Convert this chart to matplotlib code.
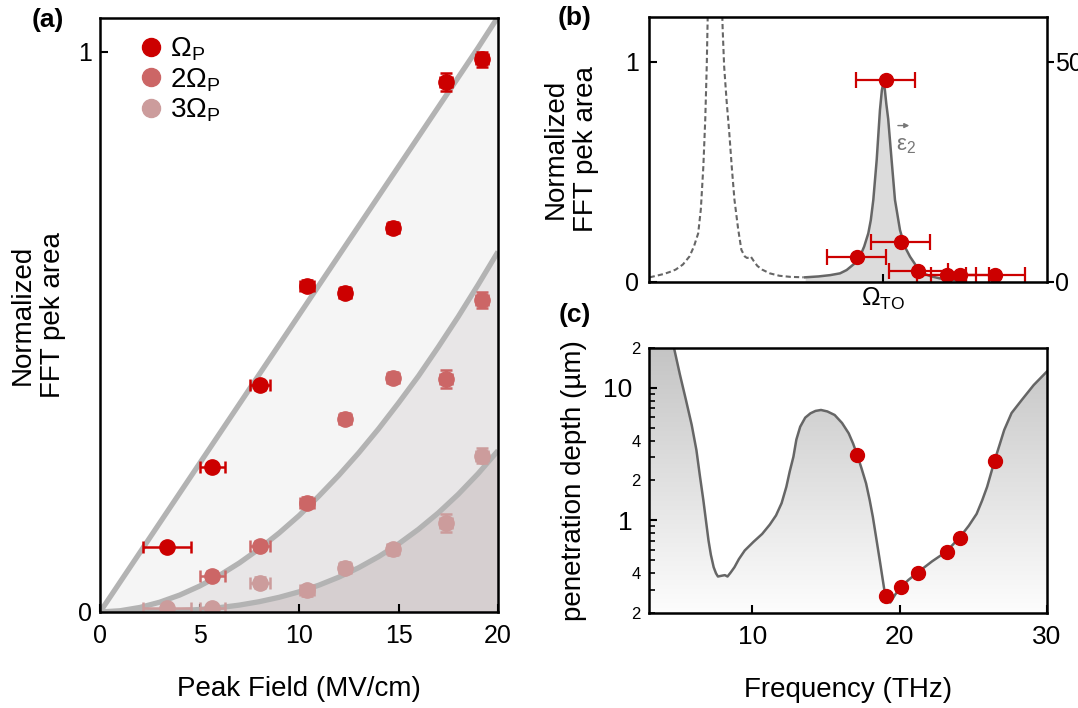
import matplotlib
matplotlib.use("Agg")
import matplotlib.pyplot as plt
import numpy as np
from matplotlib.patches import Polygon
from matplotlib.colors import LinearSegmentedColormap
from matplotlib.ticker import FixedLocator, FixedFormatter

plt.rcParams['font.family'] = ['Liberation Sans', 'DejaVu Sans']
plt.rcParams['mathtext.fontset'] = 'custom'
plt.rcParams['mathtext.rm'] = 'Liberation Sans'
plt.rcParams['mathtext.it'] = 'Liberation Sans:italic'
plt.rcParams['mathtext.bf'] = 'Liberation Sans:bold'

# ---- panel (a): peak area vs field ----
field = [3.37, 5.65, 8.04, 10.4, 12.3, 14.7, 17.4, 19.2]
field_err = [1.2, 0.65, 0.5, 0.35, 0.3, 0.3, 0.3, 0.3]
area_1p = [0.116, 0.259, 0.405, 0.582, 0.570, 0.686, 0.946, 0.986]
err_1p = [0.006, 0.006, 0.008, 0.01, 0.01, 0.01, 0.016, 0.014]
area_2p = [0.065, 0.118, 0.195, 0.345, 0.418, 0.416, 0.557]
err_2p = [0.008, 0.008, 0.01, 0.01, 0.01, 0.016, 0.014]
area_3p = [0.007, 0.007, 0.052, 0.039, 0.079, 0.112, 0.158, 0.279]
err_3p = [0.006, 0.008, 0.01, 0.01, 0.01, 0.01, 0.016, 0.014]

fit_x = list(range(21))
fit_1p = [0, 0.053, 0.106, 0.159, 0.212, 0.265, 0.318, 0.371, 0.424, 0.477, 0.530,
          0.583, 0.636, 0.689, 0.742, 0.795, 0.848, 0.901, 0.954, 1.007, 1.062]
fit_2p = [0, 0.0022, 0.0081, 0.0175, 0.0302, 0.0462, 0.0653, 0.0875, 0.1128, 0.141, 0.172,
          0.207, 0.244, 0.284, 0.327, 0.373, 0.421, 0.473, 0.527, 0.584, 0.643]
fit_3p = [0, 0.00004, 0.0003, 0.001, 0.0023, 0.0045, 0.0078, 0.0123, 0.0184, 0.0262, 0.036,
          0.0479, 0.0622, 0.0791, 0.0988, 0.1215, 0.1475, 0.1769, 0.21, 0.247, 0.288]

# ---- panel (b): peak area vs frequency ----
freq_pts = [17.1, 19.06, 20.07, 21.27, 23.2, 24.1, 26.5]
freq_err = [2.0, 2.0, 2.0, 2.0, 2.0, 2.0, 2.0]
area_freq = [0.114, 0.918, 0.182, 0.05, 0.032, 0.032, 0.032]

dash_x = [3.05, 3.5, 4.0, 4.4, 4.81, 5.3, 5.75, 6.05, 6.34, 6.52, 6.69, 6.82, 6.92, 7.1,
          7.45, 7.8, 8.0, 8.1, 8.27, 8.45, 8.62, 8.8, 9.05, 9.27, 9.5, 9.65, 9.8, 9.9,
          10.1, 10.35, 10.68, 11.2, 11.85, 12.6, 13.5]
dash_y = [0.02, 0.027, 0.035, 0.044, 0.055, 0.078, 0.115, 0.16, 0.22, 0.33, 0.524, 0.74,
          0.98, 1.6, 3.0, 1.6, 1.15, 0.98, 0.82, 0.676, 0.52, 0.373, 0.24, 0.145, 0.115,
          0.108, 0.11, 0.115, 0.095, 0.072, 0.055, 0.038, 0.027, 0.022, 0.02]
eps_x = [13.6, 14.5, 15.3, 15.96, 16.41, 16.9, 17.31, 17.6, 17.88, 18.05, 18.22, 18.45,
         18.67, 18.8, 18.9, 19.0, 19.1, 19.23, 19.46, 19.69, 20.03, 20.35, 20.71, 21.1,
         21.61, 22.1, 22.74, 23.5, 24.5]
eps_y = [0.02, 0.024, 0.03, 0.038, 0.053, 0.08, 0.114, 0.16, 0.22, 0.28, 0.372, 0.554,
         0.78, 0.87, 0.905, 0.875, 0.81, 0.74, 0.554, 0.372, 0.235, 0.16, 0.114, 0.075,
         0.038, 0.025, 0.015, 0.008, 0.004]

# ---- panel (c): penetration depth ----
depth_pts = [3.11, 0.27, 0.312, 0.40, 0.575, 0.74, 2.81]
pen_x = [3.0, 4.0, 4.7, 5.1, 5.51, 5.9, 6.22, 6.45, 6.69, 6.87, 7.04, 7.2, 7.39, 7.55,
         7.68, 7.83, 7.98, 8.15, 8.33, 8.55, 8.8, 9.1, 9.5, 10.1, 10.68, 11.2, 11.62, 12.0,
         12.32, 12.55, 12.8, 13.0, 13.26, 13.6, 13.96, 14.3, 14.67, 15.1, 15.6, 16.1, 16.55,
         16.85, 17.13, 17.43, 17.73, 17.97, 18.19, 18.42, 18.66, 18.85, 19.01, 19.2, 19.37,
         19.7, 20.07, 20.6, 21.25, 22.2, 23.12, 23.6, 24.1, 24.7, 25.23, 25.6, 25.94, 26.2,
         26.46, 26.8, 27.1, 27.6, 28.29, 29.1, 30.0]
pen_y = [80, 35, 20, 12.6, 8.1, 5.25, 3.39, 2.19, 1.42, 0.99, 0.705, 0.55, 0.443, 0.398,
         0.377, 0.38, 0.383, 0.386, 0.377, 0.405, 0.443, 0.51, 0.593, 0.69, 0.79, 0.93, 1.09,
         1.35, 1.79, 2.34, 3.02, 4.07, 5.09, 5.96, 6.43, 6.7, 6.81, 6.64, 6.24, 5.43, 4.54,
         3.8, 3.11, 2.45, 1.9, 1.43, 1.06, 0.733, 0.498, 0.363, 0.279, 0.251, 0.24,
         0.275, 0.312, 0.355, 0.406, 0.49, 0.575, 0.653, 0.748, 0.912, 1.12, 1.41, 1.79, 2.26,
         2.85, 3.76, 4.81, 6.46, 8.1, 10.5, 13.3]

red1 = '#cc0000'
red2 = '#cc6666'
red3 = '#cc9c9c'
tfs = 18   # tick labels
lfs = 20   # axis labels

fig = plt.figure(figsize=(10.78, 7.08), dpi=100)

# panel (a)
ax = fig.add_axes([0.0928, 0.1356, 0.3692, 0.839])
ax.fill_between(fit_x, fit_1p, 0, color='#f5f5f5', lw=0)
ax.fill_between(fit_x, fit_2p, 0, color='#e8e6e7', lw=0)
ax.fill_between(fit_x, fit_3p, 0, color='#d6cfd0', lw=0)
for fy in (fit_1p, fit_2p, fit_3p):
    ax.plot(fit_x, fy, color='#b3b3b3', lw=3.8, solid_capstyle='butt')

series = [(field, area_3p, err_3p, field_err, red3, r'$3\Omega_{\mathrm{P}}$'),
          (field[1:], area_2p, err_2p, field_err[1:], red2, r'$2\Omega_{\mathrm{P}}$'),
          (field, area_1p, err_1p, field_err, red1, r'$\Omega_{\mathrm{P}}$')]
handles = {}
for x, y, ye, xe, c, lab in series:
    ax.errorbar(x, y, yerr=ye, xerr=xe, fmt='none', ecolor=c, elinewidth=1.8,
                capsize=4.5, capthick=1.8)
    handles[lab] = ax.plot(x, y, 'o', color=c, ms=11, label=lab)[0]

order = [r'$\Omega_{\mathrm{P}}$', r'$2\Omega_{\mathrm{P}}$', r'$3\Omega_{\mathrm{P}}$']
ax.legend([handles[k] for k in order], order, loc='upper left', bbox_to_anchor=(0.1, 0.97),
          frameon=False, fontsize=20, handlelength=0.8, handletextpad=0.3,
          labelspacing=0.1, markerscale=1.18, borderpad=0, borderaxespad=0)

ax.set_xlim(0, 20)
ax.set_ylim(0, 1.06)
ax.set_xticks([0, 5, 10, 15, 20])
ax.set_yticks([0, 1])
ax.set_yticklabels(['0', '1'])
ax.tick_params(direction='in', labelsize=tfs, width=1.5, length=6)
ax.tick_params(axis='x', pad=9)
ax.tick_params(axis='y', pad=6)
ax.set_xlabel('Peak Field (MV/cm)', fontsize=lfs, labelpad=20)
ax.set_ylabel('Normalized\nFFT pek area', fontsize=lfs)
ax.yaxis.set_label_coords(-0.085, 0.5)
for s in ax.spines.values():
    s.set_linewidth(1.8)
fig.text(0.0445, 0.972, '(a)', fontsize=19, fontweight='bold', ha='center', va='center')

# panel (b)
axb = fig.add_axes([0.602, 0.6021, 0.3692, 0.3743])
axb.fill_between(eps_x, eps_y, 0, color='#dcdcdc', lw=0)
axb.plot(eps_x, eps_y, color='#666666', lw=1.8)
axb.plot(dash_x, dash_y, color='#666666', lw=1.5, ls=(0, (2.5, 1.5)))
axb.errorbar(freq_pts, area_freq, xerr=freq_err, fmt='o', color=red1, ms=10,
             elinewidth=1.6, capsize=6, capthick=1.6)
axb.annotate('', xy=(20.85, 0.71), xytext=(19.7, 0.71),
             arrowprops=dict(arrowstyle='-|>', color='#777777', lw=1, mutation_scale=7))
axb.text(20.45, 0.62, r'$\mathrm{ε}_2$', color='#777777', fontsize=16, ha='center', va='center')
axb.set_xlim(3, 30)
axb.set_ylim(0, 1.205)
axb.set_xticks([18.9])
axb.set_xticklabels([r'$\Omega_{\mathrm{TO}}$'])
axb.set_yticks([0, 1])
axb.tick_params(direction='in', labelsize=tfs, width=1.5, length=6)
axb.tick_params(axis='y', pad=7)
axb.tick_params(axis='x', pad=3)
axb.set_ylabel('Normalized\nFFT pek area', fontsize=lfs)
axb.yaxis.set_label_coords(-0.126, 0.5)
for s in axb.spines.values():
    s.set_linewidth(1.8)
axb2 = axb.twinx()
axb2.set_ylim(0, 1.205 * 50)
axb2.set_yticks([0, 50])
axb2.tick_params(direction='out', labelsize=tfs, width=1.5, length=5, pad=1)
fig.text(0.533, 0.975, '(b)', fontsize=19, fontweight='bold', ha='center', va='center')

# panel (c)
axc = fig.add_axes([0.602, 0.1342, 0.3692, 0.3743])
axc.set_yscale('log')
axc.set_xlim(3, 30)
axc.set_ylim(0.2, 20)
grad = np.linspace(0, 1, 256).reshape(-1, 1)
cmap = LinearSegmentedColormap.from_list('fade', ['#fdfdfd', '#c4c4c4'])
im = axc.imshow(grad, cmap=cmap, extent=[0, 1, 0, 1], transform=axc.transAxes,
                aspect='auto', origin='lower', zorder=0)
poly_xy = list(zip(pen_x, pen_y)) + [(30.0, 0.1), (3.0, 0.1)]
clip = Polygon(poly_xy, closed=True, transform=axc.transData, facecolor='none',
               edgecolor='none')
axc.add_patch(clip)
im.set_clip_path(clip)
axc.plot(pen_x, pen_y, color='#666666', lw=1.8, zorder=2)
axc.plot(freq_pts, depth_pts, 'o', color=red1, ms=10, zorder=3)
axc.set_xlim(3, 30)
axc.set_ylim(0.2, 20)
axc.set_xticks([10, 20, 30])
axc.yaxis.set_major_locator(FixedLocator([1, 10]))
axc.yaxis.set_major_formatter(FixedFormatter(['1', '10']))
minor = [0.2, 0.3, 0.4, 0.5, 0.6, 0.7, 0.8, 0.9, 2, 3, 4, 5, 6, 7, 8, 9, 20]
minor_lab = ['2', '', '4', '', '', '', '', '', '2', '', '4', '', '', '', '', '', '2']
axc.yaxis.set_minor_locator(FixedLocator(minor))
axc.yaxis.set_minor_formatter(FixedFormatter(minor_lab))
axc.tick_params(which='major', direction='in', labelsize=tfs + 1, width=1.5, length=6)
axc.tick_params(which='minor', direction='in', labelsize=12, width=1.2, length=4, pad=6)
axc.tick_params(axis='y', which='major', pad=12)
axc.tick_params(axis='x', which='major', pad=9)
axc.set_xlabel('Frequency (THz)', fontsize=lfs, labelpad=20)
axc.set_ylabel('penetration depth (µm)', fontsize=lfs)
axc.yaxis.set_label_coords(-0.156, 0.5)
for s in axc.spines.values():
    s.set_linewidth(1.8)
fig.text(0.533, 0.555, '(c)', fontsize=19, fontweight='bold', ha='center', va='center')

fig.savefig('out.png', dpi=100)
